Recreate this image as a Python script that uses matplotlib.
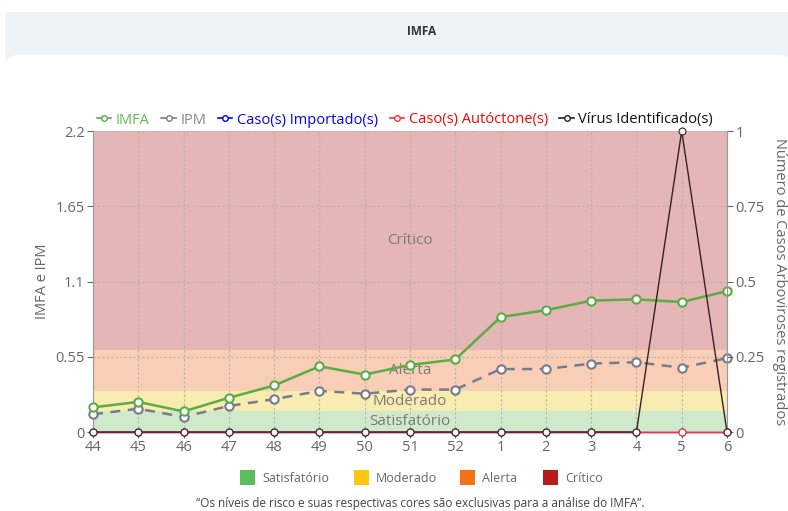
import matplotlib
matplotlib.use("Agg")
import matplotlib.pyplot as plt
from matplotlib.patches import FancyBboxPatch, Rectangle
from matplotlib.lines import Line2D

plt.rcParams['font.family'] = ['Open Sans', 'DejaVu Sans']

# data
weeks = ['44', '45', '46', '47', '48', '49', '50', '51', '52', '1', '2', '3', '4', '5', '6']
imfa = [0.18, 0.22, 0.15, 0.25, 0.34, 0.48, 0.42, 0.49, 0.53, 0.84, 0.89, 0.96, 0.97, 0.95, 1.03]
ipm = [0.13, 0.17, 0.11, 0.19, 0.24, 0.30, 0.28, 0.31, 0.31, 0.46, 0.46, 0.50, 0.51, 0.47, 0.54]
importados = [0] * 15
autoctones = [0] * 15
virus = [0, 0, 0, 0, 0, 0, 0, 0, 0, 0, 0, 0, 0, 1, 0]

bands = [(0, 0.15, '#cfeacb', 'Satisfatório'),
         (0.15, 0.30, '#f9ecb1', 'Moderado'),
         (0.30, 0.60, '#f8cfb6', 'Alerta'),
         (0.60, 2.2, '#e4b6b6', 'Crítico')]
legend_colors = ['#5cbd5c', '#fdc70e', '#f47216', '#b81a1a']

fig = plt.figure(figsize=(7.88, 5.11), dpi=100)

# header band + card
fig.patches.append(Rectangle((5 / 788, 1 - 60 / 511), 1, 48 / 511, transform=fig.transFigure,
                             facecolor='#eef3f7', edgecolor='none', zorder=-10))
fig.patches.append(FancyBboxPatch((5 / 788, 0), 1, 1 - 55 / 511, transform=fig.transFigure,
                                  boxstyle='round,pad=0,rounding_size=0.02',
                                  facecolor='white', edgecolor='none', zorder=-9))
fig.text(0.535, 1 - 31 / 511, 'IMFA', ha='center', va='center', fontsize=8.5,
         fontweight='bold', color='#333333')

ax = fig.add_axes([93 / 788, 1 - 432 / 511, 634 / 788, 301 / 511])
ax.set_zorder(1)
x = list(range(len(weeks)))
mid = (len(weeks) - 1) / 2

for lo, hi, c, name in bands:
    ax.axhspan(lo, hi, color=c, zorder=0, lw=0)
    ax.text(mid, (lo + hi) / 2, name, ha='center', va='center', fontsize=11,
            color='#7a7a7a', zorder=1)

ax.plot(x, imfa, color='#5aac45', lw=1.8, marker='o', ms=6, mfc='white', mew=1.5,
        clip_on=False, zorder=4)
ax.plot(x, ipm, color='#787a8e', lw=1.8, ls=(0, (4, 3)), marker='o', ms=6, mfc='white',
        mew=1.5, clip_on=False, zorder=3)

ax.set_xlim(0, len(weeks) - 1)
ax.set_ylim(0, 2.2)
ax.set_yticks([0, 0.55, 1.1, 1.65, 2.2])
ax.set_yticklabels(['0', '0.55', '1.1', '1.65', '2.2'])
ax.set_xticks(x)
ax.set_xticklabels(weeks)
ax.grid(True, color='#bfaeae', ls=(0, (2, 2)), lw=0.8, zorder=1)
ax.set_ylabel('IMFA e IPM', color='#666666', fontsize=10.5, labelpad=4)
ax.tick_params(colors='#666666', labelsize=10.5, length=4, pad=2)
for s in ['top', 'bottom', 'right']:
    ax.spines[s].set_visible(False)
ax.spines['left'].set_color('#999999')

ax2 = ax.twinx()
ax2.set_zorder(2)
ax2.plot(x, importados, color='#0000ff', lw=1, marker='o', ms=5, mfc='white', mew=0.8,
         clip_on=False, zorder=5)
ax2.plot(x, autoctones, color='#ff3030', lw=1, marker='o', ms=5, mfc='white', mew=0.8,
         clip_on=False, zorder=5)
ax2.plot(x, virus, color='#3a2020', lw=1, marker='o', ms=5, mfc='white', mew=0.8,
         clip_on=False, zorder=6)
ax2.set_ylim(0, 1)
ax2.set_yticks([0, 0.25, 0.5, 0.75, 1])
ax2.set_yticklabels(['0', '0.25', '0.5', '0.75', '1'])
ax2.tick_params(colors='#666666', labelsize=10.5, length=4, pad=2)
ax2.set_ylabel('Número de Casos Arboviroses registrados', color='#666666', fontsize=10.5,
               rotation=-90, labelpad=16)
for s in ['top', 'bottom', 'left']:
    ax2.spines[s].set_visible(False)
ax2.spines['right'].set_color('#999999')

# top legend
handles = [Line2D([], [], color=c, marker='o', ms=4, mfc='white', lw=1.2)
           for c in ['#5aac45', '#787a8e', '#0000ff', '#ff3030', '#222222']]
labels = ['IMFA', 'IPM', 'Caso(s) Importado(s)', 'Caso(s) Autóctone(s)', 'Vírus Identificado(s)']
fig.legend(handles, labels, loc='center', bbox_to_anchor=(405 / 788, 1 - 120 / 511), ncol=5,
           frameon=False, handlelength=1.0, handletextpad=0.3, columnspacing=0.8,
           fontsize=10.5, labelcolor=['#66bb55', '#888888', '#0000ff', '#ff0000', '#111111'])

# bottom legend
names = ['Satisfatório', 'Moderado', 'Alerta', 'Crítico']
sq_x = [240, 354, 460, 543]
for px, c, n in zip(sq_x, legend_colors, names):
    fig.patches.append(Rectangle((px / 788, 1 - 485 / 511), 15 / 788, 15 / 511,
                                 transform=fig.transFigure, facecolor=c, edgecolor='none'))
    fig.text((px + 22) / 788, 1 - 478 / 511, n, ha='left', va='center', fontsize=9,
             color='#666666')

fig.text(420 / 788, 1 - 503 / 511,
         '\u201cOs níveis de risco e suas respectivas cores são exclusivas para a análise do IMFA\u201d.',
         ha='center', va='center', fontsize=8.5, color='#444444')

fig.savefig('out.png', dpi=100)
